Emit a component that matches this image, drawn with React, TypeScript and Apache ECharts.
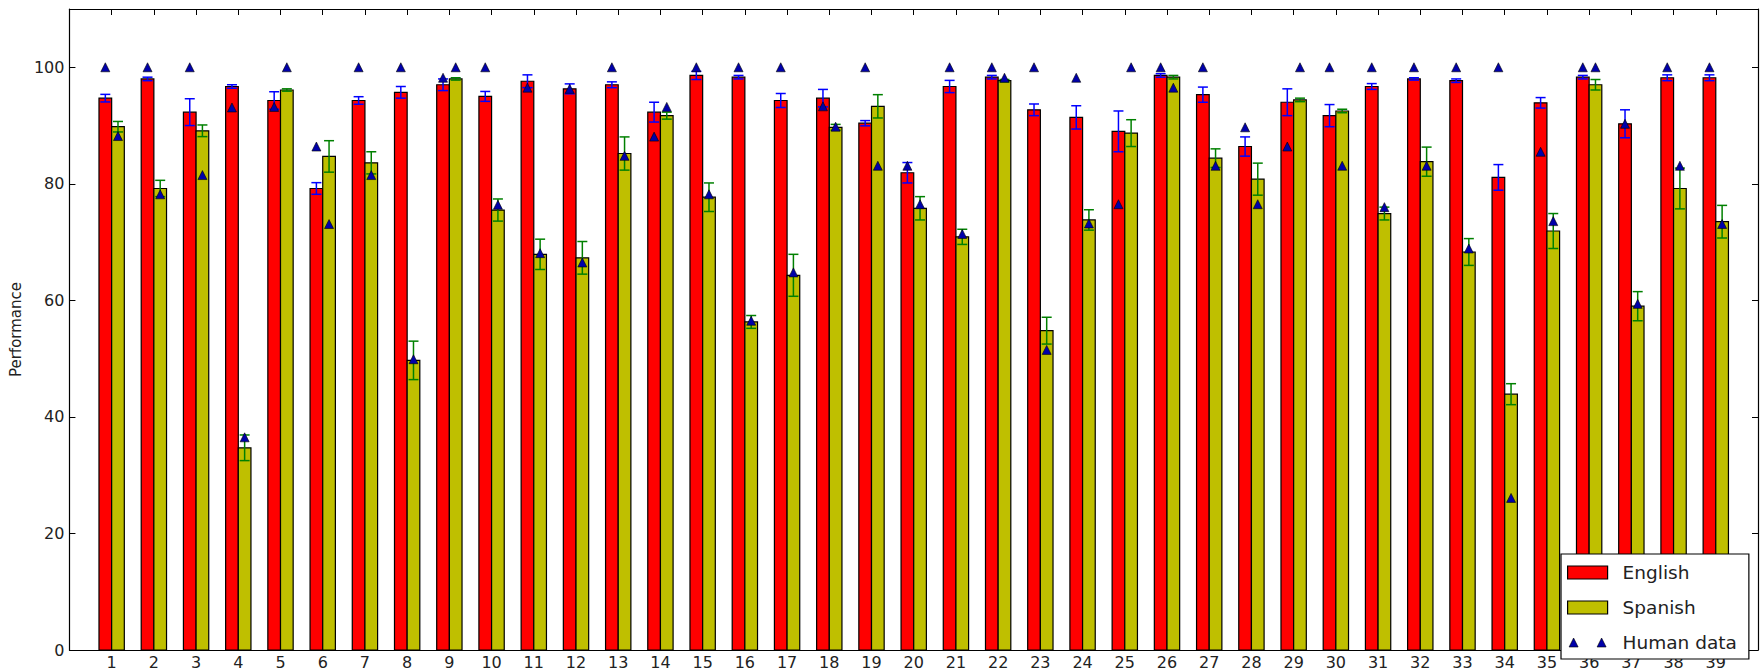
import React, { useEffect, useRef } from "react";
import * as echarts from "echarts";

// Tick positions / labels on the x axis
const categories = [1, 2, 3, 4, 5, 6, 7, 8, 9, 10, 11, 12, 13, 14, 15, 16, 17, 18, 19, 20,
  21, 22, 23, 24, 25, 26, 27, 28, 29, 30, 31, 32, 33, 34, 35, 36, 37, 38, 39];

const english = [94.7, 98.0, 92.3, 96.7, 94.3, 79.2, 94.3, 95.7, 97.0, 95.0, 97.6, 96.3, 97.0, 92.3,
  98.6, 98.3, 94.3, 94.7, 90.4, 81.9, 96.7, 98.3, 92.7, 91.4, 89.0, 98.6, 95.3, 86.4, 94.0, 91.7,
  96.7, 98.0, 97.7, 81.1, 93.9, 98.3, 90.3, 98.2, 98.2];
const englishErr = [0.65, 0.3, 2.3, 0.3, 1.5, 1.0, 0.65, 1.0, 1.0, 0.85, 1.1, 0.85, 0.5, 1.7, 0.7,
  0.3, 1.2, 1.5, 0.45, 1.75, 1.05, 0.3, 1.0, 2.0, 3.5, 0.3, 1.3, 1.65, 2.3, 1.9, 0.5, 0.2, 0.3,
  2.2, 0.9, 0.3, 2.4, 0.5, 0.5];
const spanish = [89.8, 79.2, 89.1, 34.7, 96.1, 84.7, 83.6, 49.7, 98.0, 75.5, 67.9, 67.3, 85.2, 91.7,
  77.7, 56.3, 64.3, 89.7, 93.3, 75.8, 70.9, 97.7, 54.8, 73.8, 88.7, 98.3, 84.4, 80.8, 94.4, 92.5,
  74.9, 83.8, 68.3, 43.9, 71.9, 97.0, 59.0, 79.2, 73.5];
const spanishErr = [0.9, 1.4, 1.0, 2.2, 0.2, 2.7, 1.9, 3.3, 0.2, 1.9, 2.6, 2.8, 2.85, 0.6, 2.45,
  1.1, 3.6, 0.5, 2.0, 2.0, 1.3, 0.2, 2.3, 1.75, 2.3, 0.3, 1.6, 2.75, 0.3, 0.3, 1.1, 2.5, 2.3, 1.8,
  3.0, 0.9, 2.5, 3.5, 2.8];
const humanEnglish = [100, 100, 100, 93.1, 93.2, 86.4, 100, 100, 98.2, 100, 96.5, 96.3, 100, 88.1,
  100, 100, 100, 93.3, 100, 83.1, 100, 100, 100, 98.2, 76.5, 100, 100, 89.7, 86.4, 100, 100, 100,
  100, 100, 85.5, 100, 90.3, 100, 100];
const humanSpanish = [88.2, 78.2, 81.5, 36.5, 100, 73.1, 81.5, 49.9, 100, 76.4, 68.1, 66.5, 84.8,
  93.2, 78.2, 56.5, 64.8, 89.8, 83.1, 76.5, 71.4, 98.2, 51.5, 73.2, 100, 96.5, 83.1, 76.5, 100,
  83.1, 76.0, 83.1, 68.9, 26.1, 73.6, 100, 59.4, 83.1, 73.1];

const BAR_W = 0.3;
const FONT = "DejaVu Sans";
const TXT = "#222";
const TRI = "#0000aa";

function makeRender(offset: number, fill: string, errColor: string) {
  return (params: any, api: any) => {
    const x = api.value(0);
    const v = api.value(1);
    const e = api.value(2);
    const x0 = x + offset;
    const x1 = x0 + BAR_W;
    const pTop = api.coord([x0, v]);
    const pBase = api.coord([x1, 0]);
    const cx = api.coord([x0 + BAR_W / 2, 0])[0];
    const yLo = api.coord([x, v - e])[1];
    const yHi = api.coord([x, v + e])[1];
    const cap = 5;
    const es = { stroke: errColor, lineWidth: 1.5 };
    return {
      type: "group",
      children: [
        {
          type: "rect",
          shape: { x: pTop[0], y: pTop[1], width: pBase[0] - pTop[0], height: pBase[1] - pTop[1] },
          style: { fill, stroke: "#000", lineWidth: 1.2 },
        },
        { type: "line", shape: { x1: cx, y1: yLo, x2: cx, y2: yHi }, style: es },
        { type: "line", shape: { x1: cx - cap, y1: yLo, x2: cx + cap, y2: yLo }, style: es },
        { type: "line", shape: { x1: cx - cap, y1: yHi, x2: cx + cap, y2: yHi }, style: es },
      ],
    };
  };
}

export default function App() {
  const ref = useRef<HTMLDivElement>(null);
  useEffect(() => {
    if (!ref.current) return;
    const chart = echarts.init(ref.current, null, { renderer: "svg" });
    const enData = categories.map((c, i) => [c, english[i], englishErr[i]]);
    const esData = categories.map((c, i) => [c, spanish[i], spanishErr[i]]);
    const humanData: number[][] = [];
    categories.forEach((c, i) => {
      humanData.push([c - BAR_W / 2, humanEnglish[i]]);
      humanData.push([c + BAR_W / 2, humanSpanish[i]]);
    });
    const axisBase = {
      type: "value",
      min: 0,
      max: 40,
      interval: 1,
      axisLine: { show: true, onZero: false, lineStyle: { color: "#000", width: 1.2 } },
      axisTick: { show: true, inside: true, length: 6, lineStyle: { color: "#000" } },
      splitLine: { show: false },
    };
    const yBase = {
      type: "value",
      min: 0,
      max: 110,
      interval: 20,
      axisLine: { show: true, onZero: false, lineStyle: { color: "#000", width: 1.2 } },
      axisTick: { show: true, inside: true, length: 6, lineStyle: { color: "#000" } },
      splitLine: { show: false },
    };
    chart.setOption({
      animation: false,
      backgroundColor: "#fff",
      grid: { left: 67, right: 2, top: 9, bottom: 18, containLabel: false },
      xAxis: [
        {
          ...axisBase,
          position: "bottom",
          axisLabel: {
            show: true,
            margin: 4,
            fontFamily: FONT,
            fontSize: 16,
            color: TXT,
            formatter: (v: number) => (v >= 1 && v <= 39 ? String(v) : ""),
          },
        },
        { ...axisBase, position: "top", axisLabel: { show: false } },
      ],
      yAxis: [
        {
          ...yBase,
          position: "left",
          name: "Performance",
          nameLocation: "middle",
          nameGap: 35,
          nameTextStyle: { fontFamily: FONT, fontSize: 15, color: TXT },
          axisLabel: {
            show: true,
            margin: 5,
            fontFamily: FONT,
            fontSize: 16,
            color: TXT,
            formatter: (v: number) => (v <= 100 ? String(v) : ""),
          },
        },
        { ...yBase, position: "right", axisLabel: { show: false } },
      ],
      legend: {
        left: 1561,
        top: 554,
        orient: "vertical",
        backgroundColor: "#fff",
        borderColor: "#000",
        borderWidth: 1.2,
        borderRadius: 0,
        padding: [9, 12, 7, 6],
        itemWidth: 40,
        itemHeight: 13,
        itemGap: 16,
        textStyle: { fontFamily: FONT, fontSize: 18.5, color: TXT, lineHeight: 13, padding: [0, 0, 0, 10] },
        data: [
          { name: "English", icon: "rect", itemStyle: { color: "#ff0000", borderColor: "#000", borderWidth: 1.2 } },
          { name: "Spanish", icon: "rect", itemStyle: { color: "#bfbf00", borderColor: "#000", borderWidth: 1.2 } },
          {
            name: "Human data",
            icon: "path://M0,0M40,13M1.5,11L6,2L10.5,11ZM29.5,11L34,2L38.5,11Z",
            itemStyle: { color: TRI, borderColor: "#000", borderWidth: 0.6 },
          },
        ],
      },
      series: [
        {
          name: "English",
          type: "custom",
          xAxisIndex: 0,
          yAxisIndex: 0,
          itemStyle: { color: "#ff0000", borderColor: "#000", borderWidth: 1.2 },
          encode: { x: 0, y: 1 },
          data: enData,
          renderItem: makeRender(-BAR_W, "#ff0000", "#0000ff"),
          z: 2,
        },
        {
          name: "Spanish",
          type: "custom",
          xAxisIndex: 0,
          yAxisIndex: 0,
          itemStyle: { color: "#bfbf00", borderColor: "#000", borderWidth: 1.2 },
          encode: { x: 0, y: 1 },
          data: esData,
          renderItem: makeRender(0, "#bfbf00", "#008000"),
          z: 2,
        },
        {
          name: "Human data",
          type: "scatter",
          xAxisIndex: 0,
          yAxisIndex: 0,
          symbol: "triangle",
          symbolSize: 9,
          itemStyle: { color: TRI, borderColor: "#000", borderWidth: 0.6, opacity: 1 },
          data: humanData,
          z: 5,
        },
      ],
    });
    return () => chart.dispose();
  }, []);
  return (
    <div
      ref={ref}
      style={{ position: "fixed", left: 0, top: 0, width: 1761, height: 670, background: "#fff" }}
    />
  );
}
